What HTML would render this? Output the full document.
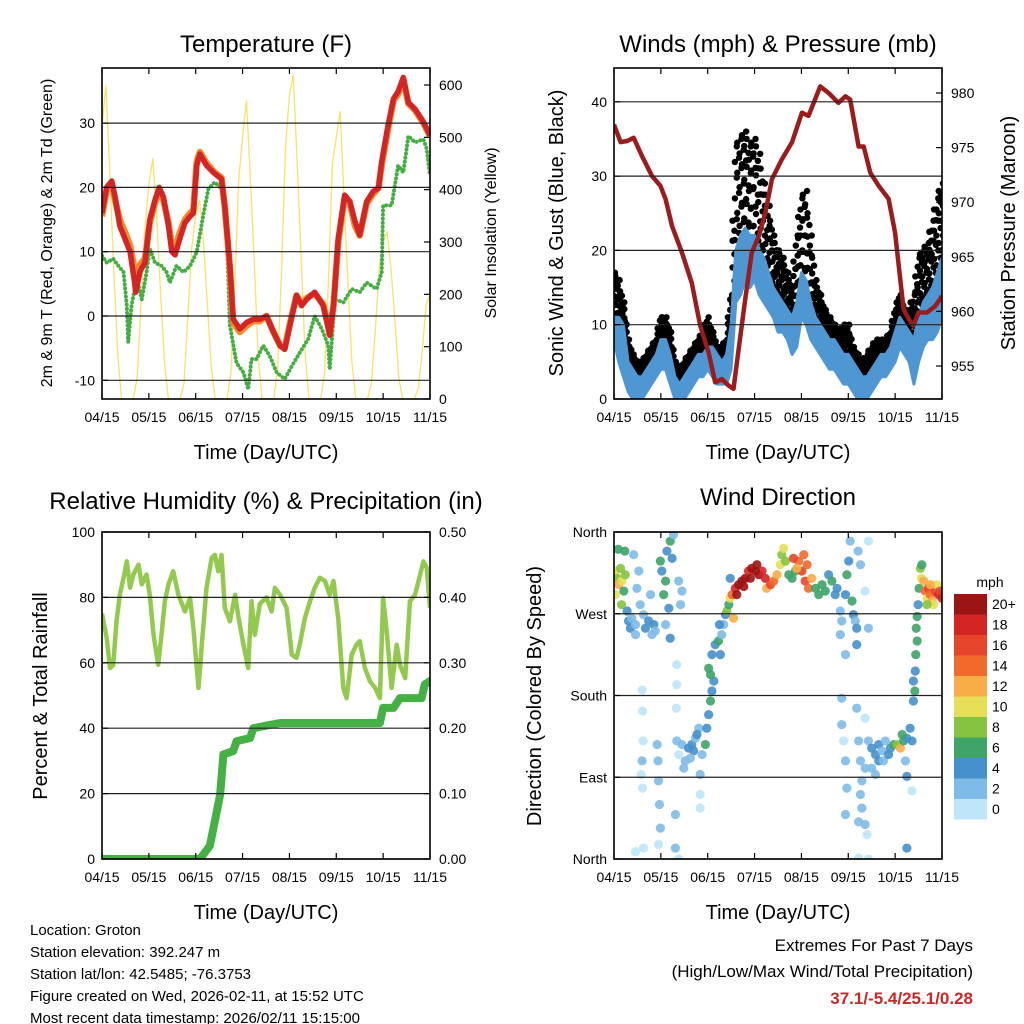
<!DOCTYPE html>
<html><head><meta charset="utf-8"><style>
html,body{margin:0;padding:0;background:#fff;}
svg{display:block;font-family:"Liberation Sans",sans-serif;}
</style></head><body>
<svg id="root" width="1024" height="1024" viewBox="0 0 1024 1024" xmlns="http://www.w3.org/2000/svg">
<rect width="1024" height="1024" fill="#fff"/>
<g id="p1"></g>
<g id="p2"></g>
<g id="p3"></g>
<g id="p4"></g>

<text x="266" y="52" font-size="24" text-anchor="middle">Temperature (F)</text>
<text x="266" y="459" font-size="20" text-anchor="middle">Time (Day/UTC)</text>
<text transform="translate(52,233) rotate(-90)" font-size="16" text-anchor="middle">2m &amp; 9m T (Red, Orange) &amp; 2m Td (Green)</text>
<text transform="translate(496,233) rotate(-90)" font-size="16" text-anchor="middle">Solar Insolation (Yellow)</text>

<text x="778" y="52" font-size="24" text-anchor="middle">Winds (mph) &amp; Pressure (mb)</text>
<text x="778" y="459" font-size="20" text-anchor="middle">Time (Day/UTC)</text>
<text transform="translate(563,233) rotate(-90)" font-size="20" text-anchor="middle">Sonic Wind &amp; Gust (Blue, Black)</text>
<text transform="translate(1015,233) rotate(-90)" font-size="20" text-anchor="middle">Station Pressure (Maroon)</text>

<text x="266" y="509" font-size="24" text-anchor="middle">Relative Humidity (%) &amp; Precipitation (in)</text>
<text x="266" y="919" font-size="20" text-anchor="middle">Time (Day/UTC)</text>
<text transform="translate(47,696) rotate(-90)" font-size="20" text-anchor="middle">Percent &amp; Total Rainfall</text>

<text x="778" y="505" font-size="24" text-anchor="middle">Wind Direction</text>
<text x="778" y="919" font-size="20" text-anchor="middle">Time (Day/UTC)</text>
<text transform="translate(541,696) rotate(-90)" font-size="20" text-anchor="middle">Direction (Colored By Speed)</text>
<text x="990" y="587" font-size="14" text-anchor="middle">mph</text>
<g id="cbar"></g>

<g font-size="15">
<text x="30" y="935">Location: Groton</text>
<text x="30" y="957">Station elevation: 392.247 m</text>
<text x="30" y="979">Station lat/lon: 42.5485; -76.3753</text>
<text x="30" y="1001">Figure created on Wed, 2026-02-11, at 15:52 UTC</text>
<text x="30" y="1023">Most recent data timestamp: 2026/02/11 15:15:00</text>
</g>
<text x="973" y="951" font-size="17" text-anchor="end">Extremes For Past 7 Days</text>
<text x="973" y="977" font-size="17" text-anchor="end">(High/Low/Max Wind/Total Precipitation)</text>
<text x="973" y="1004" font-size="17" font-weight="bold" fill="#c62828" text-anchor="end">37.1/-5.4/25.1/0.28</text>
</svg>
<script>
const dateLabels = ["04/15","05/15","06/15","07/15","08/15","09/15","10/15","11/15"];
const tDays = [0,0.10,0.21,0.28,0.38,0.49,0.60,0.70,0.72,0.81,0.92,1.02,1.13,1.22,1.31,1.42,1.49,1.56,1.66,1.77,1.88,1.95,2.02,2.09,2.23,2.38,2.55,2.62,2.73,2.80,2.94,3.09,3.23,3.37,3.51,3.66,3.80,3.90,4.01,4.15,4.26,4.37,4.54,4.72,4.86,4.94,5.04,5.18,5.29,5.40,5.50,5.65,5.79,5.90,5.97,6.09,6.22,6.32,6.43,6.54,6.68,6.86,7.00];
const temp2m = [16,20,21,18.5,14,12,10,5,3.7,6.9,8.4,15,18,20,18.5,14,10,9.5,12,14.5,15.5,16,23.4,25.2,23.4,22.3,21.3,17,7.8,-0.5,-2,-1,-0.5,-0.5,0,-2.5,-4.6,-5.2,-1.5,3.2,1.6,2.6,3.7,1.6,-3,1.6,12,18.8,17.8,14.7,12.6,17.8,19.4,19.9,24,29.1,33.8,34.9,37.1,33.2,32.2,30.2,28.1];
const temp9m = [15.5,19.5,20.5,18,15,13,11,7,6,8,9,14.5,17.5,19.5,18,14.5,11,10.5,13,15,16,16.5,24,25.5,23.8,22.5,21.5,17,7.5,-1,-2.5,-1.5,-0.8,-0.8,0,-2.5,-4.6,-5,-1.2,3.2,1.8,2.8,3.5,1.8,-2.5,1.6,11.5,18.5,17.5,14,12.5,17.5,19,19.9,23.5,28.5,33.5,34.5,36.8,33,32,30,28];
const tdDays = [0,0.10,0.24,0.35,0.46,0.53,0.56,0.63,0.74,0.85,0.95,1.02,1.13,1.27,1.38,1.45,1.59,1.74,1.88,2.02,2.16,2.27,2.41,2.55,2.66,2.73,2.87,3.02,3.12,3.19,3.30,3.44,3.58,3.73,3.90,4.05,4.22,4.40,4.54,4.69,4.83,4.86,4.97,5.15,5.33,5.50,5.65,5.86,5.97,6.00,6.18,6.32,6.43,6.54,6.68,6.86,6.93,7.00];
const dewpoint = [9.4,8.3,8.9,7.8,6.8,1.6,-4.1,1.6,5.8,2.6,6.8,10.5,8.3,7.8,6.8,5.2,7.8,6.8,7.8,9.9,15.6,19.8,20.8,19.8,13.1,-1.5,-7.3,-8.8,-11.4,-6.7,-6.7,-4.6,-6.2,-8.8,-9.8,-7.8,-5.7,-3.6,0,-2,-4.6,-8.3,2.6,2.1,4.2,3.7,5.2,4.2,6.8,17.2,17.2,23.4,22.3,28,27,27.5,26,21.8];
const solar = [520,600,430,250,90,0,0,0,0,40,180,330, 410,460,350,200,70,0,0,0,0,30,160,290, 350,380,300,180,60,0,0,0,0,50,220,420, 500,570,420,260,80,0,0,0,0,60,250,480, 580,620,450,270,90,0,0,0,0,50,230,450, 500,550,380,220,70,0,0,0,0,30,130,250, 300,320,250,150,40,0,0,0,0,20,90,180, 200];
const tTicks = [-10,0,10,20,30];
const solTicks = [0,100,200,300,400,500,600];

const windLo = [8,5,3,1,0,0,0,1,2,3,4,4,2,0,0,0,1,2,3,3,4,3,2,2,2,4,13,14,16,15,16,14,13,12,11,9,9,8,6,7,11,10,8,7,6,5,4,4,3,2,2,1,0,0,0,1,2,3,3,4,5,7,6,5,2,5,7,8,8,9,11];
const windHi = [11,11,10,5,4,3,3,4,5,6,8,8,6,3,2,3,4,5,6,6,7,7,6,5,6,10,20,22,23,22,22,20,19,17,15,14,13,12,11,13,17,16,13,11,10,9,8,8,7,6,6,5,4,3,3,4,5,6,6,7,9,11,10,9,8,11,13,14,15,17,19];
const gust = [17,16,13,8,6,5,5,6,7,8,11,11,9,5,4,5,6,7,8,9,11,9,7,7,8,14,34,35,36,34,35,33,29,26,22,20,19,17,15,22,27,28,22,16,14,12,11,10,9,10,10,7,6,5,6,7,8,8,8,9,12,14,12,12,14,19,20,21,24,27,29];
const pDays = [0,0.14,0.28,0.42,0.60,0.81,0.99,1.10,1.24,1.45,1.66,1.84,2.02,2.16,2.30,2.45,2.55,2.66,2.80,2.94,3.09,3.23,3.37,3.58,3.80,4.01,4.15,4.40,4.58,4.79,4.94,5.04,5.22,5.33,5.47,5.65,5.86,6.00,6.11,6.18,6.29,6.39,6.50,6.68,6.86,7.00];
const pressure = [977.1,975.5,975.6,975.9,974.2,972.4,971.5,970.3,967.8,965.4,962.6,958.7,956.2,953.5,953.8,953.2,952.9,956.5,961.1,965.4,966.9,969,972.1,973.9,975.5,978.2,977.9,980.6,980,979.1,979.7,979.4,975.1,975.1,972.7,971.5,970.3,967.2,962.9,960.2,959.3,958.7,959.9,959.9,960.5,961.4];
const windTicks = [0,10,20,30,40];
const presTicks = [955,960,965,970,975,980];

const rhDays = [0,.10,.17,.24,.31,.38,.46,.53,.60,.67,.78,.85,.95,1.02,1.10,1.20,1.27,1.34,1.42,1.52,1.63,1.77,1.88,1.95,2.06,2.13,2.23,2.34,2.41,2.48,2.55,2.62,2.73,2.84,2.91,3.02,3.12,3.19,3.26,3.37,3.51,3.62,3.69,3.80,3.94,4.05,4.15,4.22,4.33,4.44,4.54,4.65,4.76,4.86,4.94,5.04,5.15,5.22,5.33,5.43,5.50,5.61,5.72,5.83,5.93,6.00,6.07,6.18,6.29,6.36,6.47,6.57,6.68,6.79,6.86,6.93,7.00];
const rh = [75,67.6,58.4,59.3,72.7,80.8,86,91,83,87,90,84,87,80.8,68.6,59.4,68.6,78.8,84,88,80.8,75.7,79.8,70.6,52.3,65.5,82.9,92,93,88,93,76.8,72.7,80.8,74,65.5,58.4,78.8,68.6,78,80,75.7,82.9,80.8,76.8,62.5,61.5,65.5,73.7,78.8,82.9,86,85,80.8,85,73.7,52.3,49.2,62.5,65.5,66.6,58.4,54.3,52.3,49.2,79.8,70.6,52.3,65.5,59.4,55.3,78.8,80.8,87,91,89,76.8];
const prDays = [0,2.09,2.30,2.41,2.52,2.59,2.80,2.87,3.16,3.23,3.58,3.80,5.93,6.00,6.22,6.36,6.82,6.89,7.00];
const precip = [0,0,0.02,0.058,0.098,0.16,0.165,0.18,0.185,0.2,0.205,0.208,0.208,0.231,0.231,0.246,0.246,0.267,0.272];
const rhTicks = [0,20,40,60,80,100];
const prTicks = ["0.00","0.10","0.20","0.30","0.40","0.50"];

const dirDay = [0.01,0.04,0.07,0.10,0.14,0.17,0.21,0.23,0.09,0.24,0.03,0.16,0.28,0.31,0.35,0.38,0.46,0.49,0.53,0.56,0.63,0.67,0.74,0.81,0.85,0.88,0.42,0.46,0.78,
0.99,1.02,1.06,1.10,1.13,1.20,1.24,1.27,1.17,1.20,1.10,1.38,1.45,1.42,
0.60,0.61,0.62,0.60,0.61,0.58,0.63,0.46,0.92,0.94,0.95,0.97,0.99,0.95,1.31,1.31,1.34,1.34,1.38,1.84,1.84,1.33,
1.34,1.38,1.45,1.52,1.59,1.66,1.74,1.81,1.70,1.63,1.49,1.88,1.95,1.84,1.77,
1.98,2.02,2.06,2.09,2.13,2.06,2.02,2.09,2.16,2.23,2.27,2.34,2.30,2.38,2.25,2.41,2.45,2.48,2.52,2.55,2.48,
2.59,2.66,2.73,2.80,2.87,2.94,3.05,3.09,3.16,3.23,3.26,3.34,3.41,3.48,3.55,3.58,3.62,3.66,3.73,3.80,3.87,3.94,4.01,4.05,4.08,4.15,4.22,4.30,4.37,4.44,4.51,4.58,4.65,4.72,4.76,3.90,4.12,3.83,2.62,2.77,3.02,2.91,
4.83,4.86,4.83,4.94,5.01,5.04,5.08,5.11,5.15,5.18,5.21,5.26,4.94,4.97,5.18,5.43,5.43,5.36,
4.86,4.86,4.90,4.94,4.97,4.94,5.18,5.22,5.26,5.29,5.26,5.29,5.22,5.36,5.40,5.36,5.43,5.50,5.58,5.65,5.72,5.79,5.90,5.97,6.04,6.11,6.18,6.25,6.22,6.25,6.32,6.15,5.36,5.50,5.65,5.75,5.86,5.58,6.25,6.36,6.36,5.22,5.43,
6.39,6.39,6.43,6.42,6.44,6.47,6.45,6.47,6.49,6.51,6.54,6.56,6.57,
6.61,6.64,6.68,6.71,6.75,6.79,6.82,6.86,6.89,6.93,6.96,7.00,6.68,6.75];
const dirDeg = [313,317,309,302,320,306,295,339,341,313,291,280,273,262,254,265,258,298,317,280,269,254,262,247,258,251,335,247,291,
328,317,291,306,339,350,331,357,276,243,258,306,295,280,
186,163,130,108,78,93,12,8,126,108,86,60,34,16,49,12,214,192,0,71,56,166,
130,115,126,108,122,126,133,144,119,111,100,115,126,93,137,
144,159,174,185,196,203,210,225,236,240,225,258,247,269,258,273,280,287,291,265,309,
298,302,306,309,317,320,324,313,317,309,298,302,306,313,324,335,342,328,313,309,317,328,317,335,306,298,309,298,291,302,295,313,306,291,298,320,324,331,291,300,317,309,
273,262,247,291,328,350,284,269,262,254,339,324,225,313,236,254,350,295,
177,148,130,108,78,49,166,130,108,86,71,56,41,38,27,155,130,122,115,126,119,130,122,126,126,122,130,133,108,91,144,137,100,100,108,108,115,93,12,75,130,1,0,
174,196,207,185,225,240,254,267,280,298,320,309,324,
306,295,287,298,291,284,280,295,302,291,295,287,280,302];
const dirSpd = [10,11,9,12,8,10,7,7,7,9,11,8,4,4,4,3,2,2,3,2,3,4,4,3,4,3,2,2,3,
6,5,6,7,4,6,4,3,4,4,3,2,2,2,
1,1,1,2,1,1,1,1,3,3,3,3,3,1,2,3,1,1,1,1,1,1,
2,1,2,3,4,4,3,3,4,2,3,3,6,2,4,
4,4,6,4,4,7,6,4,4,6,5,3,3,4,4,9,7,11,14,12,5,
19,20,20,20,19,20,20,20,18,19,12,16,14,13,10,9,10,8,7,7,7,15,17,14,16,14,13,7,6,7,6,5,6,5,4,12,15,16,20,20,20,20,
3,3,2,4,4,3,6,4,3,4,2,3,2,6,4,2,1,1,
2,2,1,3,3,2,2,3,2,2,3,3,3,2,1,1,3,4,4,4,3,3,5,7,8,12,7,5,2,4,4,6,3,2,4,3,4,2,4,1,4,1,1,
4,4,4,6,6,6,7,7,4,7,8,10,7,
12,14,10,16,14,12,10,16,10,18,16,18,9,13];
const dirTicks = [360,270,180,90,0];
const dirLabels = ["North","West","South","East","North"];
const speedBins = ["0","2","4","6","8","10","12","14","16","18","20+"];
const speedColors = ["#bfe6f8","#7fbbe7","#4690cc","#3ea468","#86c341","#e6df57","#f8ad47","#f06a2c","#e6452c","#d42424","#9c1515"];

const NS = "http://www.w3.org/2000/svg";
function mk(tag, attrs, parent){
  const e = document.createElementNS(NS, tag);
  for (const k in attrs) e.setAttribute(k, attrs[k]);
  parent.appendChild(e);
  return e;
}
function xScale(x0){ return d => x0 + d * 328 / 7; }
const yT = v => 316 - v * 6.43;
const ySol = v => 399 - v * 0.5233;
const yW = v => 399 - v * 7.43;
const yP = v => 366 - (v - 955) * 10.92;
const yRH = v => 859 - v * 3.27;
const yPr = v => 859 - v * 654;
const yD = v => 859 - v * 327 / 360;

function pathD(xs, ys, fx, fy){
  return xs.map((d,i)=> (i?"L":"M") + fx(d).toFixed(1) + "," + fy(ys[i]).toFixed(1)).join("");
}

function frame(g, x0, y0, y1, name){
  const clip = mk("clipPath", {id: "clip-"+name}, g);
  mk("rect", {x:x0, y:y0, width:328, height:y1-y0}, clip);
  const plot = mk("g", {"clip-path":"url(#clip-"+name+")"}, g);
  
  
  return plot;
}
function box(g, x0, y0, y1){
  const r = mk("rect", {x:x0, y:y0, width:328, height:y1-y0, fill:"none", stroke:"#000", "stroke-width":1.6}, g);
  
  
}
function xAxis(g, x0, y0, y1){
  const fx = xScale(x0);
  dateLabels.forEach((lab, i) => {
    const x = fx(i);
    const t1 = mk("line", {x1:x, x2:x, y1:y1, y2:y1-6, stroke:"#000", "stroke-width":1.2}, g);
    
    
    const t2 = mk("line", {x1:x, x2:x, y1:y0, y2:y0+6, stroke:"#000", "stroke-width":1.2}, g);
    
    
    const tx = mk("text", {x:x, y:y1+23, "font-size":14, "text-anchor":"middle"}, g);
    tx.textContent = lab;
    
    
  });
}
function yTicks(g, ticks, labels, fy, xEdge, side, grid, x0){
  ticks.forEach((v, i) => {
    const y = fy(v);
    if (grid){
      const gl = mk("line", {x1:x0, x2:x0+328, y1:y, y2:y, stroke:"#222", "stroke-width":1.2}, g);
      
      
    }
    const tk = mk("line", {x1:xEdge, x2:xEdge + (side<0?6:-6), y1:y, y2:y, stroke:"#000", "stroke-width":1.2}, g);
    
    
    const tx = mk("text", {x: side<0 ? xEdge-7 : xEdge+9, y:y+5, "font-size":14, "text-anchor": side<0?"end":"start"}, g);
    tx.textContent = labels[i];
    
    
  });
}

// ---------- Panel 1: temperature ----------
(function(){
  const g = document.getElementById("p1");
  const fx = xScale(102);
  const plot = frame(g, 102, 68, 399, "temperature");
  yTicks(g, tTicks, tTicks.map(String), yT, 102, -1, true, 102);
  const solDays = solar.map((_, i) => i / 12);
  const sl = mk("path", {d: pathD(solDays, solar, fx, ySol), fill:"none", stroke:"#f7dc52", "stroke-width":1.3, opacity:0.85}, plot);
  
  
  const td = mk("path", {d: pathD(tdDays, dewpoint, fx, yT), fill:"none", stroke:"#45ad43", "stroke-width":4, "stroke-dasharray":"0.1 4", "stroke-linecap":"round", "stroke-linejoin":"round"}, plot);
  
  
  const o = mk("path", {d: pathD(tDays, temp9m, fx, yT), fill:"none", stroke:"#f28a2e", "stroke-width":6.5, "stroke-linejoin":"round"}, plot);
  
  
  const r = mk("path", {d: pathD(tDays, temp2m, fx, yT), fill:"none", stroke:"#d42525", "stroke-width":5.5, "stroke-linejoin":"round"}, plot);
  
  
  yTicks(g, solTicks, solTicks.map(String), ySol, 430, 1, false, 102);
  xAxis(g, 102, 68, 399);
  box(g, 102, 68, 399);
})();

// ---------- Panel 2: winds ----------
(function(){
  const g = document.getElementById("p2");
  const fx = xScale(614);
  const plot = frame(g, 614, 68, 399, "winds");
  yTicks(g, windTicks, windTicks.map(String), yW, 614, -1, true, 614);
  const wDays = gust.map((_, i) => i / 10);
  const fracs = [0.1, 0.3, 0.5, 0.7, 0.85, 1.0];
  gust.forEach((v, i) => {
    const nextG = i + 1 < gust.length ? gust[i + 1] : v;
    const nextH = i + 1 < gust.length ? windHi[i + 1] : windHi[i];
    [0, 0.5].forEach((s, si) => {
      const gv = v + (nextG - v) * s;
      const hv = windHi[i] + (nextH - windHi[i]) * s;
      fracs.forEach((f, fi) => {
        const off = ((fi + si) % 2 ? 0.02 : -0.02);
        const c = mk("circle", {cx: fx(wDays[i] + s * 0.1 + off), cy: yW(hv + (gv - hv) * f), r: 3.2, fill:"#000"}, plot);
        
        
      });
    });
  });
  const rev = wDays.slice().reverse();
  let dw = pathD(wDays, windHi, fx, yW) + pathD(rev, windLo.slice().reverse(), fx, yW).replace("M","L") + "Z";
  const wp = mk("path", {d: dw, fill:"#4f97d3", stroke:"#4f97d3", "stroke-width":3, "stroke-linejoin":"round"}, plot);
  
  
  const pl = mk("path", {d: pathD(pDays, pressure, fx, yP), fill:"none", stroke:"#9b1c1c", "stroke-width":4.5, "stroke-linejoin":"round"}, plot);
  
  
  yTicks(g, presTicks, presTicks.map(String), yP, 942, 1, false, 614);
  xAxis(g, 614, 68, 399);
  box(g, 614, 68, 399);
})();

// ---------- Panel 3: humidity ----------
(function(){
  const g = document.getElementById("p3");
  const fx = xScale(102);
  const plot = frame(g, 102, 532, 859, "humidity");
  yTicks(g, rhTicks, rhTicks.map(String), yRH, 102, -1, true, 102);
  const rl = mk("path", {d: pathD(rhDays, rh, fx, yRH), fill:"none", stroke:"#93c94f", "stroke-width":4.5, "stroke-linejoin":"round"}, plot);
  
  
  const pr = mk("path", {d: pathD(prDays, precip, fx, yPr), fill:"none", stroke:"#45b043", "stroke-width":8, "stroke-linejoin":"round", "stroke-linecap":"round"}, plot);
  
  
  yTicks(g, prTicks.map(Number), prTicks, yPr, 430, 1, false, 102);
  xAxis(g, 102, 532, 859);
  box(g, 102, 532, 859);
})();

// ---------- Panel 4: wind direction ----------
(function(){
  const g = document.getElementById("p4");
  const fx = xScale(614);
  const plot = frame(g, 614, 532, 859, "direction");
  yTicks(g, dirTicks, dirLabels, yD, 614, -1, true, 614);
  dirDay.forEach((d, i) => {
    const bin = Math.min(10, Math.floor(dirSpd[i] / 2));
    const c = mk("circle", {cx: fx(d), cy: yD(dirDeg[i]), r: 4.6, fill: speedColors[bin], opacity: 0.9}, plot);
    
    
  });
  xAxis(g, 614, 532, 859);
  box(g, 614, 532, 859);
  const cb = document.getElementById("cbar");
  speedBins.forEach((lab, i) => {
    const y = 799 - i * 20.5;
    const r = mk("rect", {x:954, y:y, width:33, height:20.5, fill: speedColors[i]}, cb);
    
    
    const t = mk("text", {x:992, y:y+15, "font-size":14}, cb);
    t.textContent = lab;
    
    
  });
})();
</script>
</body></html>
